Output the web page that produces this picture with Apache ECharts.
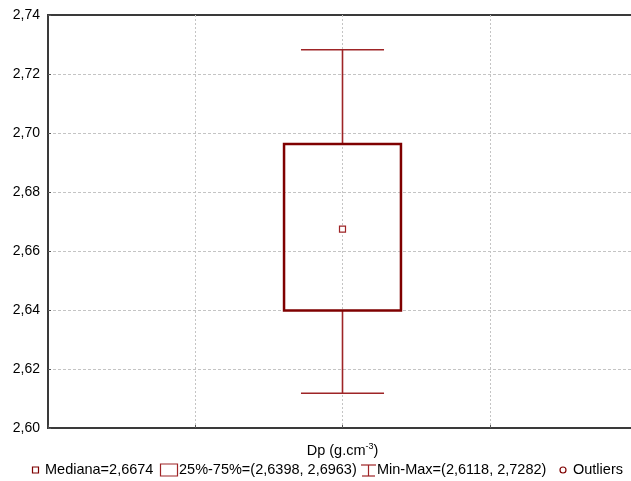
<!DOCTYPE html>
<html>
<head>
<meta charset="utf-8">
<script src="https://cdn.jsdelivr.net/npm/echarts@6/dist/echarts.min.js"></script>
<style>
html, body { margin: 0; padding: 0; background: #fff; overflow: hidden; }
#chart { width: 640px; height: 481px; }
</style>
</head>
<body>
<div id="chart"></div>
<script>
// data
var categories = ['Dp'];
var minVals = [2.6118];
var q1Vals = [2.6398];
var medianVals = [2.6674];
var q3Vals = [2.6963];
var maxVals = [2.7282];
var yTicks = [2.60, 2.62, 2.64, 2.66, 2.68, 2.70, 2.72, 2.74];

var boxColor = '#7f0000';
var whiskerColor = '#9e2426';
var font = 'Liberation Sans, Arial, sans-serif';

function comma(v, d) {
    return v.toFixed(d).replace('.', ',');
}

var source = categories.map(function (c, i) {
    return [2, minVals[i], q1Vals[i], medianVals[i], q3Vals[i], maxVals[i]];
});

var myChart = echarts.init(document.getElementById('chart'));

function renderBox(params, api) {
    var x = api.value(0);
    var lo = api.coord([x, api.value(1)]);
    var q1 = api.coord([x, api.value(2)]);
    var med = api.coord([x, api.value(3)]);
    var q3 = api.coord([x, api.value(4)]);
    var hi = api.coord([x, api.value(5)]);
    var unit = api.size([1, 0])[0];
    var boxHalf = unit * 0.397;
    var capHalf = unit * 0.282;
    var whisk = { stroke: whiskerColor, lineWidth: 1.6 };
    return {
        type: 'group',
        children: [
            { type: 'line', shape: { x1: hi[0], y1: hi[1], x2: q3[0], y2: q3[1] }, style: whisk },
            { type: 'line', shape: { x1: q1[0], y1: q1[1], x2: lo[0], y2: lo[1] }, style: whisk },
            { type: 'line', shape: { x1: hi[0] - capHalf, y1: hi[1], x2: hi[0] + capHalf, y2: hi[1] }, style: whisk },
            { type: 'line', shape: { x1: lo[0] - capHalf, y1: lo[1], x2: lo[0] + capHalf, y2: lo[1] }, style: whisk },
            {
                type: 'rect',
                shape: { x: q3[0] - boxHalf, y: q3[1], width: boxHalf * 2, height: q1[1] - q3[1] },
                style: { fill: 'none', stroke: boxColor, lineWidth: 2.5 }
            },
            {
                type: 'rect',
                shape: { x: med[0] - 3, y: med[1] - 3, width: 6, height: 6 },
                style: { fill: '#fff', stroke: whiskerColor, lineWidth: 1.2 }
            }
        ]
    };
}

var legendY = 470;
var legendText = { fill: '#000', font: '14.5px ' + font, textVerticalAlign: 'middle' };

var option = {
    animation: false,
    grid: {
        left: 48,
        top: 15,
        right: 3,
        bottom: 53,
        show: true,
        borderColor: '#3a3a3a',
        borderWidth: 2,
        backgroundColor: '#fff'
    },
    xAxis: {
        type: 'value',
        min: 0,
        max: 4,
        interval: 1,
        name: '{a|Dp (g.cm}{s|-3}{a|)}',
        nameLocation: 'middle',
        nameGap: 14,
        nameTextStyle: {
            rich: {
                a: { fontSize: 14.5, fontFamily: font, color: '#000' },
                s: { fontSize: 9, fontFamily: font, color: '#000', verticalAlign: 'top', padding: [0, 0, 8, 0] }
            }
        },
        axisLabel: { show: false },
        axisLine: { lineStyle: { color: '#3a3a3a', width: 2 } },
        axisTick: { inside: true, length: 3, lineStyle: { color: '#555' } },
        splitLine: { show: true, showMinLine: false, showMaxLine: false, lineStyle: { color: '#c4c4c4', type: [2, 2], width: 1 } }
    },
    yAxis: {
        type: 'value',
        min: yTicks[0],
        max: yTicks[yTicks.length - 1],
        interval: 0.02,
        axisLabel: {
            formatter: function (v) { return comma(v, 2); },
            color: '#000',
            fontSize: 14,
            fontFamily: font,
            margin: 8
        },
        axisLine: { show: true, lineStyle: { color: '#3a3a3a', width: 2 } },
        axisTick: { show: true, length: 3, inside: true, lineStyle: { color: '#555' } },
        splitLine: { show: true, showMinLine: false, showMaxLine: false, lineStyle: { color: '#c4c4c4', type: [3, 2], width: 1 } }
    },
    series: [{
        type: 'custom',
        renderItem: renderBox,
        data: source,
        encode: { x: 0, y: [1, 2, 3, 4, 5] },
        clip: false
    }],
    graphic: [
        { type: 'rect', shape: { x: 32.5, y: legendY - 3, width: 6, height: 6 }, style: { fill: '#fff', stroke: boxColor, lineWidth: 1.2 } },
        { type: 'text', x: 45, y: legendY, style: Object.assign({ text: 'Mediana=' + comma(medianVals[0], 4) }, legendText) },
        { type: 'rect', shape: { x: 160.5, y: legendY - 6, width: 17, height: 12 }, style: { fill: '#fff', stroke: whiskerColor, lineWidth: 1.2 } },
        { type: 'text', x: 179, y: legendY, style: Object.assign({ text: '25%-75%=(' + comma(q1Vals[0], 4) + ', ' + comma(q3Vals[0], 4) + ')' }, legendText) },
        { type: 'polyline', shape: { points: [[361, legendY - 5], [376, legendY - 5]] }, style: { stroke: whiskerColor, lineWidth: 1.2 } },
        { type: 'polyline', shape: { points: [[368.5, legendY - 5], [368.5, legendY + 6]] }, style: { stroke: whiskerColor, lineWidth: 1.2 } },
        { type: 'polyline', shape: { points: [[362, legendY + 6], [375, legendY + 6]] }, style: { stroke: whiskerColor, lineWidth: 1.2 } },
        { type: 'text', x: 377, y: legendY, style: Object.assign({ text: 'Min-Max=(' + comma(minVals[0], 4) + ', ' + comma(maxVals[0], 4) + ')' }, legendText) },
        { type: 'circle', shape: { cx: 563, cy: legendY, r: 3 }, style: { fill: '#fff', stroke: boxColor, lineWidth: 1.2 } },
        { type: 'text', x: 573, y: legendY, style: Object.assign({ text: 'Outliers' }, legendText) }
    ]
};

myChart.setOption(option);
</script>
</body>
</html>
